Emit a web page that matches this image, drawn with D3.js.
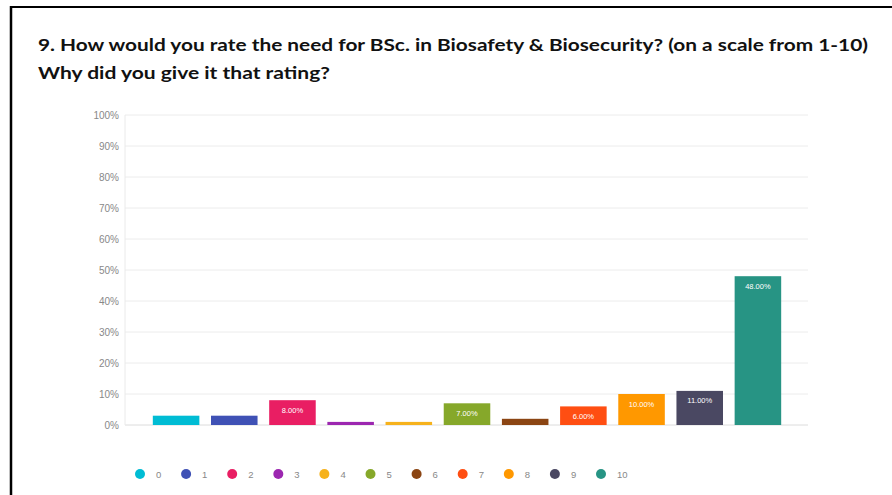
<!DOCTYPE html>
<html>
<head>
<meta charset="utf-8">
<script src="https://cdn.jsdelivr.net/npm/d3@7"></script>
<style>
  body { margin: 0; background: #fff; }
  svg { display: block; }
</style>
</head>
<body>
<div id="chart"></div>
<script>
// Rating categories and share of responses (%)
const ratings = ["0", "1", "2", "3", "4", "5", "6", "7", "8", "9", "10"];
const shares = [3, 3, 8, 1, 1, 7, 2, 6, 10, 11, 48];
const colors = ["#00bcd4", "#3f51b5", "#e91e63", "#9c27b0", "#f6b21c", "#86a82a",
                "#8b4513", "#ff4e12", "#ff9800", "#4a4862", "#279484"];
const yTicks = [0, 10, 20, 30, 40, 50, 60, 70, 80, 90, 100];
const titleLines = [
  "9. How would you rate the need for BSc. in Biosafety & Biosecurity? (on a scale from 1-10)",
  "Why did you give it that rating?"
];

const width = 892, height = 495;
const svg = d3.select("#chart").append("svg")
  .attr("width", width)
  .attr("height", height);

// frame (top and left edges visible)
svg.append("line").attr("x1", 10).attr("x2", width).attr("y1", 7).attr("y2", 7)
  .attr("stroke", "#000").attr("stroke-width", 2);
svg.append("line").attr("x1", 11).attr("x2", 11).attr("y1", 6).attr("y2", height)
  .attr("stroke", "#000").attr("stroke-width", 2.5);

// title
svg.selectAll("text.title")
  .data(titleLines)
  .enter()
  .append("text")
  .attr("class", "title")
  .attr("x", 38)
  .attr("y", (d, i) => 51 + i * 28)
  .attr("font-family", "Lato, 'Noto Sans', sans-serif")
  .attr("font-weight", "bold")
  .attr("font-size", 17.5)
  .attr("fill", "#111")
  .attr("textLength", (d, i) => i === 0 ? 830 : 292)
  .attr("lengthAdjust", "spacingAndGlyphs")
  .text(d => d);

const plotLeft = 125, plotRight = 808;
const y = d3.scaleLinear().domain([0, 100]).range([425, 115]);
const x = d3.scaleBand().domain(ratings).range([147, 787]).paddingInner(0.2).paddingOuter(0.1);

// gridlines
svg.append("g")
  .selectAll("line")
  .data(yTicks)
  .enter()
  .append("line")
  .attr("x1", plotLeft)
  .attr("x2", plotRight)
  .attr("y1", d => y(d))
  .attr("y2", d => y(d))
  .attr("stroke", d => d === 0 ? "#dcdcdc" : "#ececec")
  .attr("stroke-width", 1);

// y axis line
svg.append("line")
  .attr("x1", plotLeft).attr("x2", plotLeft)
  .attr("y1", y(100)).attr("y2", y(0))
  .attr("stroke", "#eaeaea");

// y tick labels
svg.append("g")
  .selectAll("text")
  .data(yTicks)
  .enter()
  .append("text")
  .attr("x", 119)
  .attr("y", d => y(d) + 3.5)
  .attr("text-anchor", "end")
  .attr("font-family", "'Liberation Sans', Arial, sans-serif")
  .attr("font-size", 10)
  .attr("fill", "#888")
  .text(d => d + "%");

// bars
svg.append("g")
  .selectAll("rect")
  .data(ratings)
  .enter()
  .append("rect")
  .attr("x", d => x(d))
  .attr("width", x.bandwidth())
  .attr("y", (d, i) => y(shares[i]))
  .attr("height", (d, i) => y(0) - y(shares[i]))
  .attr("fill", (d, i) => colors[i]);

// value labels inside the taller bars
svg.append("g")
  .selectAll("text")
  .data(ratings.filter((d, i) => shares[i] >= 5))
  .enter()
  .append("text")
  .attr("x", d => x(d) + x.bandwidth() / 2)
  .attr("y", d => y(shares[ratings.indexOf(d)]) + 12.5)
  .attr("text-anchor", "middle")
  .attr("font-family", "'Liberation Sans', Arial, sans-serif")
  .attr("font-size", 7.5)
  .attr("fill", "#fff")
  .text(d => shares[ratings.indexOf(d)].toFixed(2) + "%");

// legend
const legend = svg.append("g")
  .selectAll("g")
  .data(ratings)
  .enter()
  .append("g")
  .attr("transform", (d, i) => `translate(${140 + i * 46.1},474)`);

legend.append("circle")
  .attr("r", 5)
  .attr("fill", (d, i) => colors[i]);

legend.append("text")
  .attr("x", 16)
  .attr("y", 3.5)
  .attr("font-family", "'Liberation Sans', Arial, sans-serif")
  .attr("font-size", 9.5)
  .attr("fill", "#888")
  .text(d => d);
</script>
</body>
</html>
